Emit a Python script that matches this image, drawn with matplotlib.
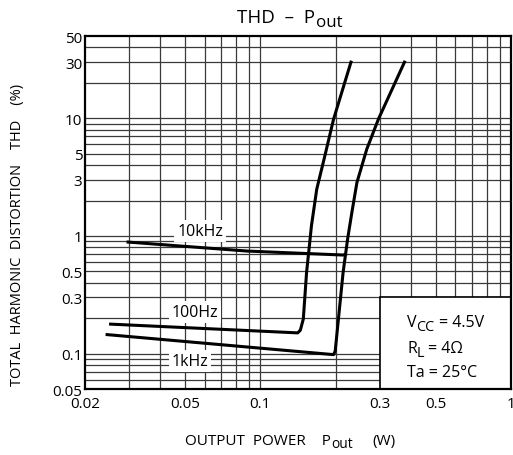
import matplotlib
matplotlib.use('Agg')
import matplotlib.pyplot as plt
from matplotlib.patches import Rectangle
from matplotlib.ticker import FixedLocator, NullFormatter

plt.rcParams['font.family'] = 'Open Sans'
plt.rcParams['mathtext.fontset'] = 'custom'
plt.rcParams['mathtext.rm'] = 'Open Sans'

# curves (Pout in W, THD in %)
p_100hz = [0.0253, 0.141, 0.1445, 0.1485, 0.153, 0.158, 0.160, 0.168, 0.181, 0.196, 0.230]
thd_100hz = [0.178, 0.150, 0.158, 0.197, 0.49, 0.94, 1.22, 2.5, 4.8, 9.8, 30]

p_1khz = [0.0245, 0.196, 0.199, 0.205, 0.214, 0.223, 0.232, 0.243, 0.266, 0.296, 0.376]
thd_1khz = [0.145, 0.098, 0.105, 0.197, 0.49, 0.94, 1.59, 2.85, 5.47, 9.84, 30]

p_10khz = [0.0297, 0.0885, 0.214, 0.219]
thd_10khz = [0.887, 0.744, 0.688, 0.70]

x_ticks = [0.02, 0.05, 0.1, 0.3, 0.5, 1]
x_labels = ['0.02', '0.05', '0.1', '0.3', '0.5', '1']
y_ticks = [0.05, 0.1, 0.3, 0.5, 1, 3, 5, 10, 30, 50]
y_labels = ['0.05', '0.1', '0.3', '0.5', '1', '3', '5', '10', '30', '50']

fig = plt.figure(figsize=(5.13, 4.56), dpi=100)
ax = fig.add_axes([0.1657, 0.1447, 0.8304, 0.7741])
ax.set_xscale('log')
ax.set_yscale('log')
ax.set_xlim(0.02, 1)
ax.set_ylim(0.05, 50)

# grid: every decade subdivision
x_grid = [0.03, 0.04, 0.05, 0.06, 0.07, 0.08, 0.09, 0.1, 0.2, 0.3, 0.4, 0.5, 0.6, 0.7, 0.8, 0.9]
y_grid = [0.06, 0.07, 0.08, 0.09, 0.1, 0.2, 0.3, 0.4, 0.5, 0.6, 0.7, 0.8, 0.9, 1,
          2, 3, 4, 5, 6, 7, 8, 9, 10, 20, 30, 40]
for xv in x_grid:
    ax.axvline(xv, color='#3a3a3a', lw=0.9, zorder=1)
for yv in y_grid:
    ax.axhline(yv, color='#3a3a3a', lw=0.9, zorder=1)

ax.xaxis.set_major_locator(FixedLocator(x_ticks))
ax.set_xticklabels(x_labels)
ax.xaxis.set_minor_locator(FixedLocator([]))
ax.xaxis.set_minor_formatter(NullFormatter())
ax.yaxis.set_major_locator(FixedLocator(y_ticks))
ax.set_yticklabels(y_labels)
ax.yaxis.set_minor_locator(FixedLocator([]))
ax.yaxis.set_minor_formatter(NullFormatter())
ax.tick_params(length=0, labelsize=11, colors='black')
ax.tick_params(axis='y', pad=2)
ax.tick_params(axis='x', pad=5)

for s in ax.spines.values():
    s.set_linewidth(1.6)
    s.set_zorder(5)

ax.plot(p_100hz, thd_100hz, color='black', lw=2.2, zorder=4, solid_joinstyle='round')
ax.plot(p_1khz, thd_1khz, color='black', lw=2.2, zorder=4, solid_joinstyle='round')
ax.plot(p_10khz, thd_10khz, color='black', lw=2.2, zorder=4, solid_joinstyle='round')

box = dict(facecolor='white', edgecolor='none', pad=2)
ax.text(0.27, 0.448, '10kHz', transform=ax.transAxes, ha='center', va='center',
        fontsize=11.5, bbox=box, zorder=3)
ax.text(0.258, 0.218, '100Hz', transform=ax.transAxes, ha='center', va='center',
        fontsize=11.5, bbox=box, zorder=3)
ax.text(0.246, 0.079, '1kHz', transform=ax.transAxes, ha='center', va='center',
        fontsize=11.5, bbox=box, zorder=3)


def chain(x, y, parts, size, transform):
    # parts: (text, size factor, baseline shift pts, gap pts)
    prev = fig.text(x, y, parts[0][0], fontsize=size, va='baseline', ha='left',
                    transform=transform, zorder=6)
    prev_dy = 0
    for txt, sc, dy, gap in parts[1:]:
        prev = fig.add_artist(plt.Annotation(
            txt, xy=(1, 0), xycoords=prev, xytext=(gap, dy - prev_dy),
            textcoords='offset points', fontsize=size * sc, va='bottom', ha='left',
            zorder=6))
        prev_dy = dy


# conditions box
ax.add_patch(Rectangle((0.3, 0.05), 0.7, 0.25, facecolor='white', edgecolor='black',
                       lw=1.2, zorder=3))
chain(0.756, 0.178, [('V', 1, 0, 0), ('CC', 0.9, -3, 0), ('= 4.5V', 1, 0, 3)], 11.5, ax.transAxes)
chain(0.756, 0.105, [('R', 1, 0, 0), ('L', 0.9, -3, 0), ('= 4Ω', 1, 0, 3)], 11.5, ax.transAxes)
chain(0.756, 0.037, [('Ta = 25°C', 1, 0, 0)], 11.5, ax.transAxes)

chain(0.462, 0.9496, [('THD  –  P', 1, 0, 0), ('out', 0.9, -3, 0.5)], 13.5, fig.transFigure)
chain(0.3606, 0.0241, [('OUTPUT  POWER    P', 1, 0, 0), ('out', 0.9, -2.5, 0.5),
                       ('(W)', 1, 0, 14)], 11, fig.transFigure)
fig.text(0.035, 0.485, 'TOTAL  HARMONIC  DISTORTION    THD    (%)', rotation=90,
         ha='center', va='center', fontsize=10.5)

fig.savefig('out.png', dpi=100)
